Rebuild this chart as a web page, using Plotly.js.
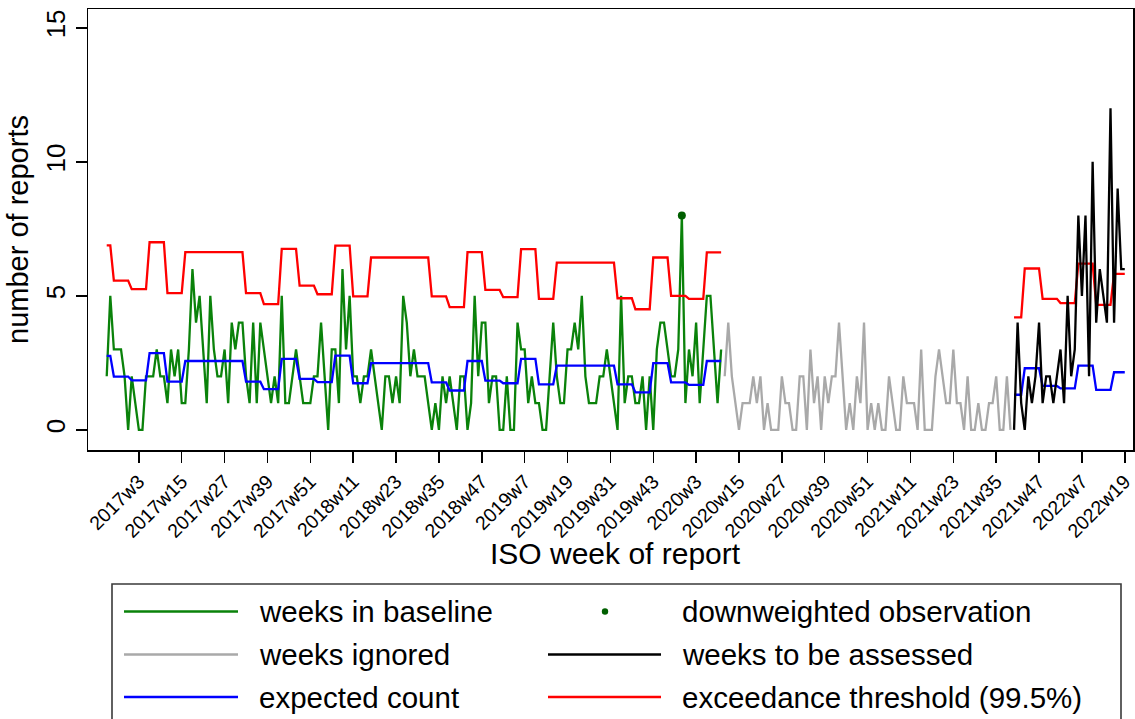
<!DOCTYPE html>
<html>
<head>
<meta charset="utf-8">
<script src="https://cdn.plot.ly/plotly-3.0.1.min.js"></script>
<style>
  html, body { margin: 0; padding: 0; background: #ffffff; }
  #chart { width: 1135px; height: 719px; }
</style>
</head>
<body>
<div id="chart"></div>
<script>
// ---------------- DATA ----------------
// first reported ISO week shown (year axis uses 52 weeks per year, as in the tick labels)
const firstYear = 2016;
const firstWeek = 46;

// weekly counts: weeks in baseline (green)
const baselineCounts = [
  2,5,3,3,3,2,0,2,1,0, 0,2,2,2,3,2,2,1,3,2,
  3,1,1,3,6,4,5,3,1,5, 3,2,2,3,1,4,3,4,4,2,
  1,4,1,4,3,2,1,2,1,5, 1,1,2,3,2,1,1,1,2,2,
  4,2,0,3,3,1,6,3,5,2, 2,1,2,2,3,2,1,0,2,2,
  1,2,1,5,4,2,3,2,2,2, 1,0,1,0,2,1,2,1,0,2,
  2,0,1,5,2,4,4,1,2,2, 0,0,2,0,0,4,3,3,1,2,
  1,1,0,0,2,4,2,1,1,3, 3,4,3,5,2,1,1,1,2,2,
  3,2,1,0,5,1,2,2,1,1, 2,0,2,0,3,4,4,3,2,2,
  3,8,1,3,2,4,1,3,5,5, 3,1,3
];

// weekly counts: weeks ignored (grey)
const ignoredCounts = [
  2,4,2,1,0,1,1,1,2,1, 2,0,1,0,0,0,2,1,1,0,
  0,2,2,0,3,1,2,0,2,1, 2,2,4,2,0,1,0,2,1,4,
  0,1,0,1,0,0,2,1,0,0, 2,1,1,1,0,3,0,0,0,2,
  3,2,1,1,3,1,1,0,2,0, 0,1,0,0,1,1,2,0,0,2,
  0
];

// weekly counts: weeks to be assessed (black)
const assessedCounts = [
  0,4,1,0,2,1,2,4,1,2, 2,1,2,3,1,5,2,3,8,5,
  8,2,10,4,6,5,4,12,4,9, 6,6
];

// downweighted observation
const downweightedWeeks = ["2019w51"];
const downweightedCounts = [8];

// expected count (blue), baseline period
const expectedBaseline = [
  2.76,2.76,
  1.99,1.99,1.99,1.99,1.99,
  1.85,1.85,1.85,1.85,1.85,
  2.86,2.86,2.86,2.86,2.86,
  1.80,1.80,1.80,1.80,1.80,
  2.57,2.57,2.57,2.57,2.57,2.57,2.57,2.57,2.57,2.57,2.57,2.57,2.57,2.57,2.57,2.57,2.57,
  1.80,1.80,1.80,1.80,1.80,
  1.52,1.52,1.52,1.52,1.52,
  2.65,2.65,2.65,2.65,2.65,
  1.90,1.90,1.90,1.90,1.90,
  1.78,1.78,1.78,1.78,1.78,
  2.77,2.77,2.77,2.77,2.77,
  1.74,1.74,1.74,1.74,1.74,
  2.49,2.49,2.49,2.49,2.49,2.49,2.49,2.49,2.49,2.49,2.49,2.49,2.49,2.49,2.49,2.49,2.49,
  1.77,1.77,1.77,1.77,1.77,
  1.47,1.47,1.47,1.47,1.47,
  2.57,2.57,2.57,2.57,2.57,
  1.84,1.84,1.84,1.84,1.84,
  1.74,1.74,1.74,1.74,1.74,
  2.65,2.65,2.65,2.65,2.65,
  1.70,1.70,1.70,1.70,1.70,
  2.40,2.40,2.40,2.40,2.40,2.40,2.40,2.40,2.40,2.40,2.40,2.40,2.40,2.40,2.40,2.40,2.40,
  1.70,1.70,1.70,1.70,1.70,
  1.40,1.40,1.40,1.40,1.40,
  2.49,2.49,2.49,2.49,2.49,
  1.77,1.77,1.77,1.77,1.77,
  1.68,1.68,1.68,1.68,1.68,
  2.57,2.57,2.57,2.57,2.57
];

// exceedance threshold (red), baseline period
const thresholdBaseline = [
  6.88,6.88,
  5.57,5.57,5.57,5.57,5.57,
  5.25,5.25,5.25,5.25,5.25,
  7.00,7.00,7.00,7.00,7.00,
  5.10,5.10,5.10,5.10,5.10,
  6.63,6.63,6.63,6.63,6.63,6.63,6.63,6.63,6.63,6.63,6.63,6.63,6.63,6.63,6.63,6.63,6.63,
  5.10,5.10,5.10,5.10,5.10,
  4.69,4.69,4.69,4.69,4.69,
  6.75,6.75,6.75,6.75,6.75,
  5.38,5.38,5.38,5.38,5.38,
  5.06,5.06,5.06,5.06,5.06,
  6.87,6.87,6.87,6.87,6.87,
  4.98,4.98,4.98,4.98,4.98,
  6.43,6.43,6.43,6.43,6.43,6.43,6.43,6.43,6.43,6.43,6.43,6.43,6.43,6.43,6.43,6.43,6.43,
  4.98,4.98,4.98,4.98,4.98,
  4.58,4.58,4.58,4.58,4.58,
  6.63,6.63,6.63,6.63,6.63,
  5.22,5.22,5.22,5.22,5.22,
  4.95,4.95,4.95,4.95,4.95,
  6.74,6.74,6.74,6.74,6.74,
  4.89,4.89,4.89,4.89,4.89,
  6.24,6.24,6.24,6.24,6.24,6.24,6.24,6.24,6.24,6.24,6.24,6.24,6.24,6.24,6.24,6.24,6.24,
  4.91,4.91,4.91,4.91,4.91,
  4.50,4.50,4.50,4.50,4.50,
  6.43,6.43,6.43,6.43,6.43,
  5.00,5.00,5.00,5.00,5.00,
  4.89,4.89,4.89,4.89,4.89,
  6.62,6.62,6.62,6.62,6.62
];

// expected count and threshold for the weeks to be assessed
const expectedAssessed = [
  1.31,1.31,1.31,
  2.30,2.30,2.30,2.30,2.30,
  1.64,1.64,1.64,1.64,1.64,
  1.55,1.55,1.55,1.55,1.55,
  2.40,2.40,2.40,2.40,2.40,
  1.49,1.49,1.49,1.49,1.49,
  2.15,2.15,2.15,2.15
];
const thresholdAssessed = [
  4.20,4.20,4.20,
  6.02,6.02,6.02,6.02,6.02,
  4.89,4.89,4.89,4.89,4.89,
  4.73,4.73,4.73,4.73,4.73,
  6.20,6.20,6.20,6.20,6.20,
  4.66,4.66,4.66,4.66,4.66,
  5.82,5.82,5.82,5.82
];

// tick labels on the week axis
const tickLabels = [
  "2017w3","2017w15","2017w27","2017w39","2017w51",
  "2018w11","2018w23","2018w35","2018w47",
  "2019w7","2019w19","2019w31","2019w43",
  "2020w3","2020w15","2020w27","2020w39","2020w51",
  "2021w11","2021w23","2021w35","2021w47",
  "2022w7","2022w19"
];
const yTicks = [0, 5, 10, 15];

// axis titles and legend labels
const xTitle = "ISO week of report";
const yTitle = "number of reports";
const legendLabels = {
  baseline: "weeks in baseline",
  downweighted: "downweighted observation",
  ignored: "weeks ignored",
  assessed: "weeks to be assessed",
  expected: "expected count",
  threshold: "exceedance threshold (99.5%)"
};

// ---------------- WEEK CATEGORIES ----------------
const nB = baselineCounts.length, nI = ignoredCounts.length, nA = assessedCounts.length;
const nWeeks = nB + nI + nA;
const weeks = [];
{
  let yr = firstYear, wk = firstWeek;
  for (let i = 0; i < nWeeks; i++) {
    weeks.push(yr + "w" + wk);
    wk++;
    if (wk > 52) { wk = 1; yr++; }
  }
}
const xBaseline = weeks.slice(0, nB);
const xIgnored = weeks.slice(nB, nB + nI);
const xAssessed = weeks.slice(nB + nI);

// ---------------- STYLE ----------------
const FONT = "Liberation Sans, Arial, Helvetica, sans-serif";
const C = {
  green: "#0a820a",
  grey: "#a9a9a9",
  black: "#000000",
  blue: "#0000ff",
  red: "#ff0000",
  dot: "#005f00"
};
const LW = 2.3;

const traces = [
  { x: xBaseline, y: baselineCounts, type: "scatter", mode: "lines", name: legendLabels.baseline,
    line: { color: C.green, width: LW } },
  { x: xIgnored, y: ignoredCounts, type: "scatter", mode: "lines", name: legendLabels.ignored,
    line: { color: C.grey, width: LW } },
  { x: xBaseline, y: expectedBaseline, type: "scatter", mode: "lines", name: legendLabels.expected,
    line: { color: C.blue, width: LW } },
  { x: xAssessed, y: expectedAssessed, type: "scatter", mode: "lines", name: legendLabels.expected,
    line: { color: C.blue, width: LW } },
  { x: xBaseline, y: thresholdBaseline, type: "scatter", mode: "lines", name: legendLabels.threshold,
    line: { color: C.red, width: LW } },
  { x: xAssessed, y: thresholdAssessed, type: "scatter", mode: "lines", name: legendLabels.threshold,
    line: { color: C.red, width: LW } },
  { x: xAssessed, y: assessedCounts, type: "scatter", mode: "lines", name: legendLabels.assessed,
    line: { color: C.black, width: LW } },
  { x: downweightedWeeks, y: downweightedCounts, type: "scatter", mode: "markers", name: legendLabels.downweighted,
    marker: { color: C.dot, size: 8 } }
];

// ---------------- MANUAL LEGEND (Stata style, two columns) ----------------
const W = 1135, H = 719;
const M = { l: 88, r: 2, t: 9, b: 269 };
const PW = W - M.l - M.r, PH = H - M.t - M.b;
const px2x = p => (p - M.l) / PW;
const px2y = p => (H - M.b - p) / PH;

const legendRows = [611.5, 654.5, 697];
const col1 = { x0: 124, x1: 238, tx: 257 };
const col2 = { x0: 548, x1: 661, tx: 680, dot: 605 };
const legendItems = [
  { col: col1, row: 0, kind: "line", color: C.green, text: legendLabels.baseline },
  { col: col2, row: 0, kind: "dot", color: C.dot, text: legendLabels.downweighted },
  { col: col1, row: 1, kind: "line", color: C.grey, text: legendLabels.ignored },
  { col: col2, row: 1, kind: "line", color: C.black, text: legendLabels.assessed },
  { col: col1, row: 2, kind: "line", color: C.blue, text: legendLabels.expected },
  { col: col2, row: 2, kind: "line", color: C.red, text: legendLabels.threshold }
];

const shapes = [
  { type: "rect", xref: "paper", yref: "paper",
    x0: px2x(112), x1: px2x(1121), y0: px2y(584), y1: px2y(760),
    line: { color: "#3a3a3a", width: 1.6 }, fillcolor: "rgba(0,0,0,0)", layer: "above" }
];
const annotations = [
  // x-axis title, placed as in the reference
  { xref: "paper", yref: "paper", x: px2x(615), y: px2y(553), xanchor: "center", yanchor: "middle",
    showarrow: false, text: xTitle, font: { family: FONT, size: 30, color: "#000" } }
];
legendItems.forEach(it => {
  const yy = px2y(legendRows[it.row]);
  if (it.kind === "line") {
    shapes.push({ type: "line", xref: "paper", yref: "paper",
      x0: px2x(it.col.x0), x1: px2x(it.col.x1), y0: yy, y1: yy,
      line: { color: it.color, width: LW } });
  } else {
    const r = 3.2;
    shapes.push({ type: "circle", xref: "paper", yref: "paper",
      x0: px2x(it.col.dot - r), x1: px2x(it.col.dot + r), y0: px2y(legendRows[it.row] + r), y1: px2y(legendRows[it.row] - r),
      line: { color: it.color, width: 0 }, fillcolor: it.color });
  }
  annotations.push({ xref: "paper", yref: "paper", x: px2x(it.col.tx), y: yy,
    xanchor: "left", yanchor: "middle", showarrow: false, text: it.text,
    font: { family: FONT, size: 29.5, color: "#000" } });
});

const layout = {
  width: W, height: H,
  margin: M,
  paper_bgcolor: "#ffffff",
  plot_bgcolor: "#ffffff",
  showlegend: false,
  font: { family: FONT, color: "#000" },
  xaxis: {
    type: "category",
    categoryorder: "array",
    categoryarray: weeks,
    range: [-5.24, nWeeks - 1 + 2.3],
    tickmode: "array",
    tickvals: tickLabels,
    ticktext: tickLabels,
    tickangle: -45,
    ticks: "outside", ticklen: 11, tickwidth: 1.5, tickcolor: "#000",
    tickfont: { family: FONT, size: 19.5, color: "#000" },
    showline: true, linecolor: "#000", linewidth: 1.5, mirror: true,
    showgrid: false, zeroline: false,
    automargin: false
  },
  yaxis: {
    range: [-0.75, 15.7],
    tickmode: "array",
    tickvals: yTicks,
    ticktext: yTicks.map(String),
    tickangle: -90,
    ticks: "outside", ticklen: 11, tickwidth: 1.5, tickcolor: "#000",
    tickfont: { family: FONT, size: 26, color: "#000" },
    showline: true, linecolor: "#000", linewidth: 1.5, mirror: true,
    showgrid: false, zeroline: false,
    title: { text: yTitle, font: { family: FONT, size: 29, color: "#000" }, standoff: 4 },
    automargin: false
  },
  shapes: shapes,
  annotations: annotations
};

Plotly.newPlot("chart", traces, layout, { displayModeBar: false, staticPlot: true });
</script>
</body>
</html>
